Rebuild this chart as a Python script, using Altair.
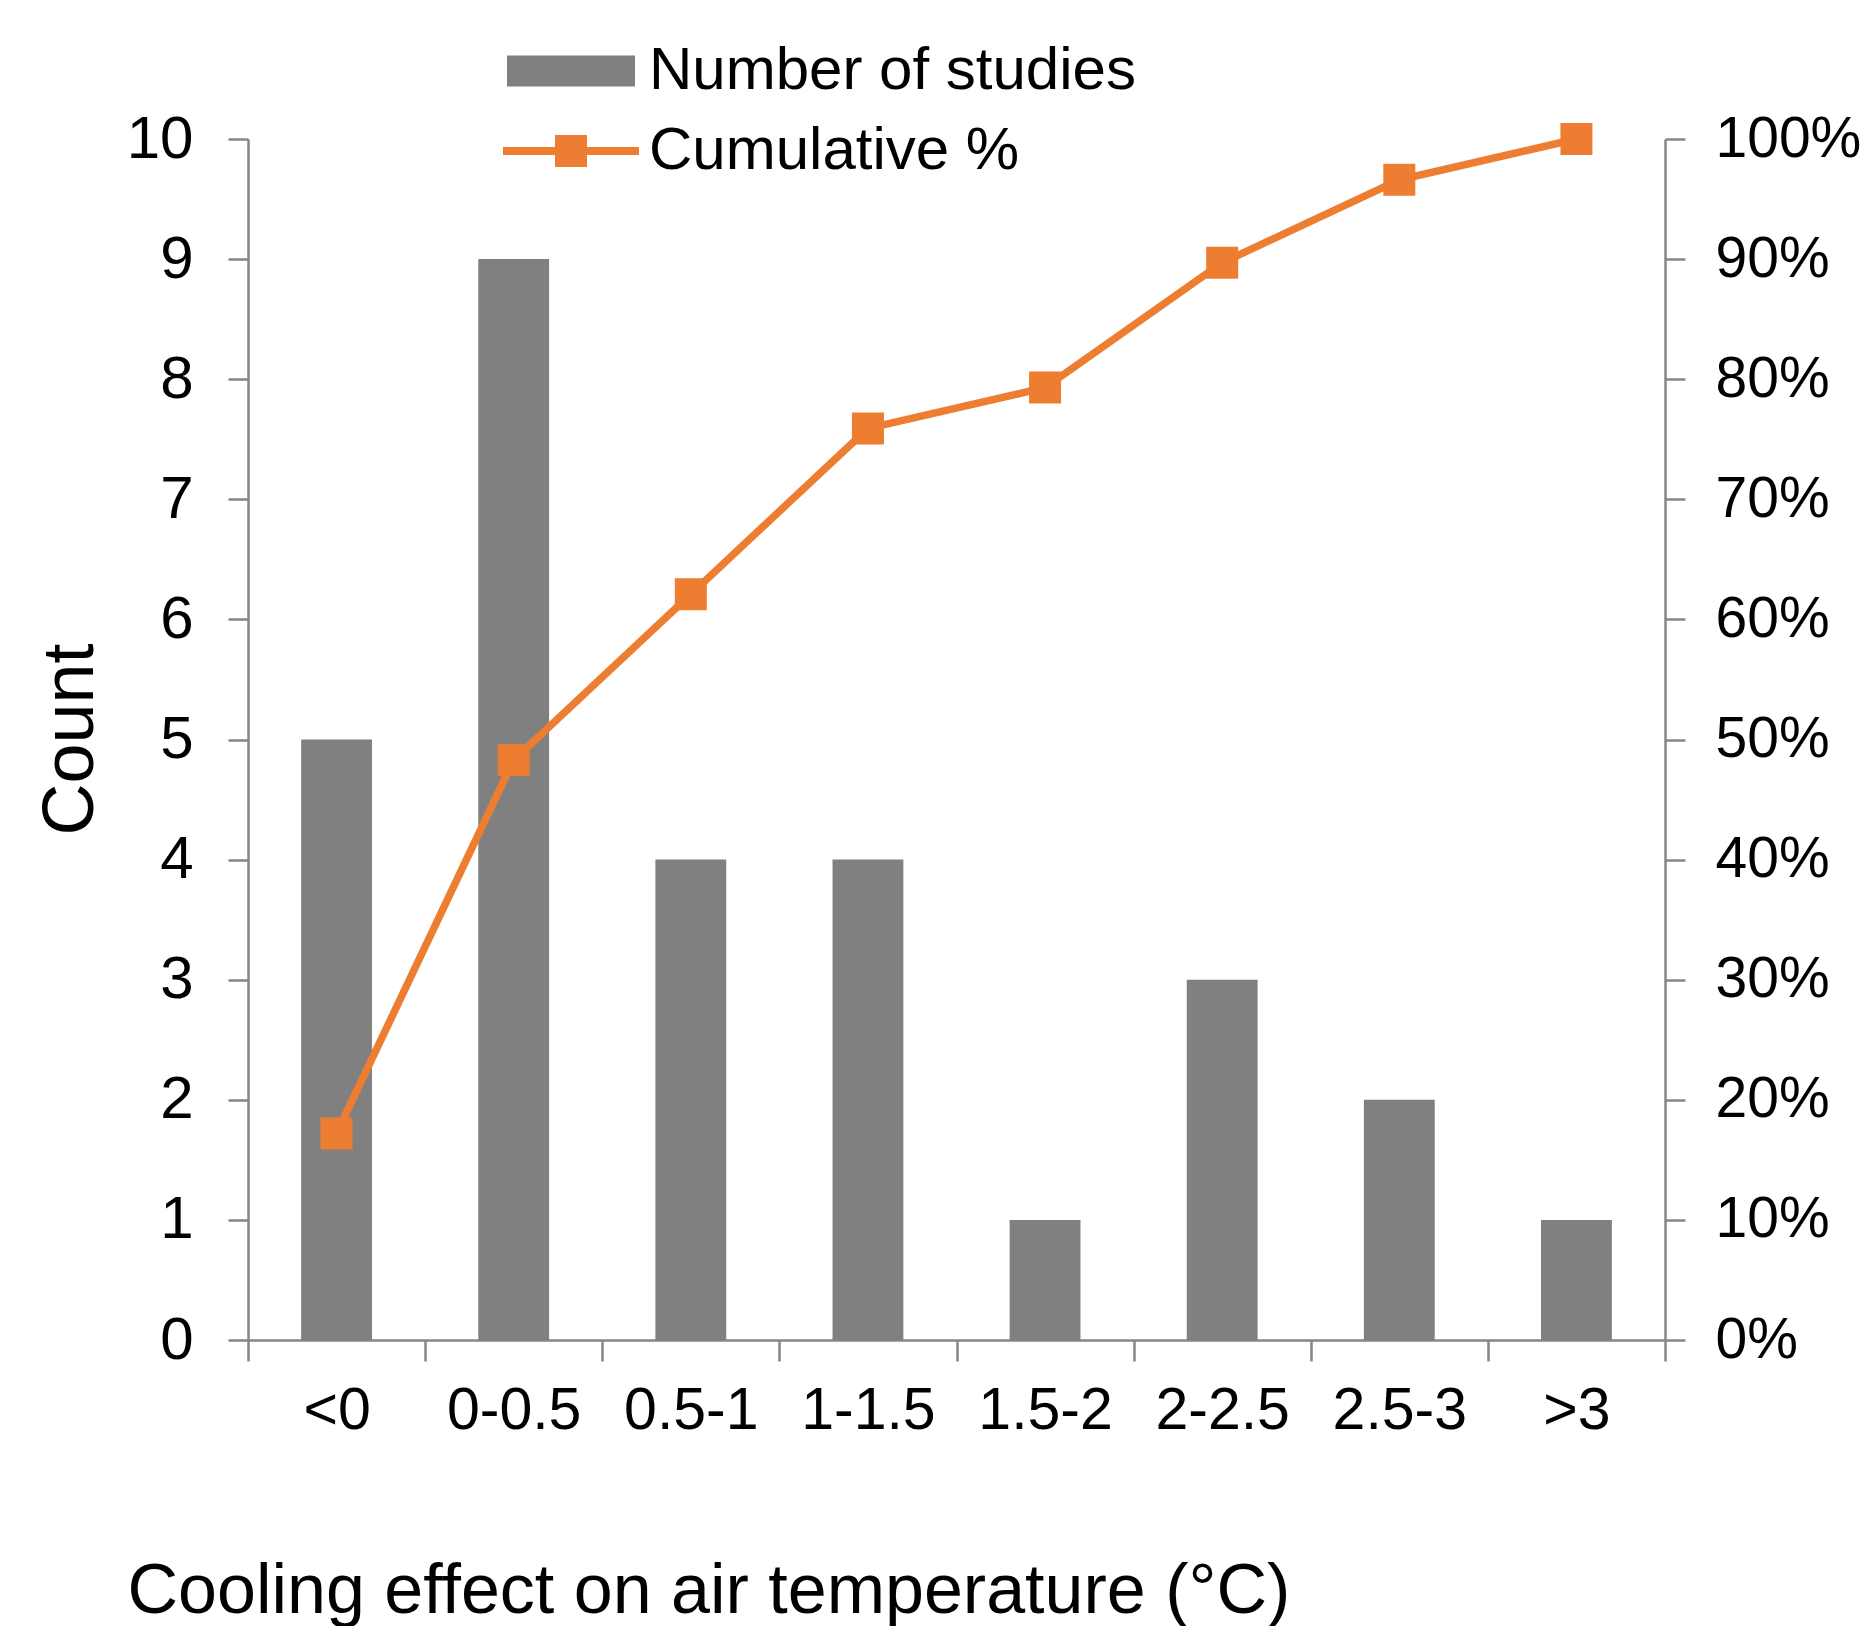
import altair as alt
import pandas as pd

# ---- data ----
categories = ["<0", "0-0.5", "0.5-1", "1-1.5", "1.5-2", "2-2.5", "2.5-3", ">3"]
counts = [5, 9, 4, 4, 1, 3, 2, 1]
cumulative = [0.172, 0.483, 0.621, 0.759, 0.793, 0.897, 0.966, 1.0]
bar_label = "Number of studies"
line_label = "Cumulative %"
count_ticks = [0, 1, 2, 3, 4, 5, 6, 7, 8, 9, 10]
pct_ticks = [0, 0.1, 0.2, 0.3, 0.4, 0.5, 0.6, 0.7, 0.8, 0.9, 1.0]

df = pd.DataFrame({
    "range": categories,
    "count": counts,
    "cum": cumulative,
    "bar_series": [bar_label] * len(categories),
    "line_series": [line_label] * len(categories),
})

FONT = "Liberation Sans"
AXC = "#868686"
GRAY = "#808080"
ORANGE = "#ED7D31"

RECT_PATH = "M-4,-0.97H4V0.97H-4Z"
LINE_PATH = "M-4.25,-0.25H4.25V0.25H-4.25Z M-1,-1H1V1H-1Z"

x_enc = alt.X(
    "range:N",
    sort=categories,
    scale=alt.Scale(paddingInner=0, paddingOuter=0),
    axis=alt.Axis(
        title="Cooling effect on air temperature (°C)",
        labelAngle=0,
        tickBand="extent",
        labelFontSize=59,
        labelPadding=20,
        tickSize=21,
        titleFontSize=70,
        titleAlign="left",
        titleAnchor="start",
        titleX=-121,
        titleY=272,
        titleBaseline="alphabetic",
    ),
)

leg_common = dict(
    orient="none",
    title=None,
    labelFontSize=60,
    labelFont=FONT,
    labelColor="black",
    labelLimit=1000,
    symbolSize=1024,
    symbolStrokeWidth=0,
    padding=0,
    labelOffset=48,
    legendX=293,
)

bars = alt.Chart(df).mark_bar(width=alt.RelativeBandSize(0.4)).encode(
    x=x_enc,
    y=alt.Y(
        "count:Q",
        scale=alt.Scale(domain=[0, 10], nice=False),
        axis=alt.Axis(
            title="Count",
            orient="left",
            values=count_ticks,
            labelFontSize=60,
            labelPadding=35,
            tickSize=20,
            titleFontSize=72,
            titleX=-156,
            titleY=600,
            titleBaseline="alphabetic",
        ),
    ),
    color=alt.Color(
        "bar_series:N",
        scale=alt.Scale(domain=[bar_label], range=[GRAY]),
        legend=alt.Legend(symbolType=RECT_PATH, legendY=-98, **leg_common),
    ),
)

y2 = alt.Y(
    "cum:Q",
    scale=alt.Scale(domain=[0, 1], nice=False),
    axis=alt.Axis(
        title=None,
        orient="right",
        format=".0%",
        values=pct_ticks,
        labelFontSize=57,
        labelPadding=30,
        tickSize=20,
    ),
)

line = alt.Chart(df).mark_line(color=ORANGE, strokeWidth=7.5).encode(x=x_enc, y=y2)

points = alt.Chart(df).mark_square(size=1024, opacity=1).encode(
    x=x_enc,
    y=y2,
    fill=alt.Fill(
        "line_series:N",
        scale=alt.Scale(domain=[line_label], range=[ORANGE]),
        legend=alt.Legend(symbolType=LINE_PATH, legendY=-18, **leg_common),
    ),
)

chart = (
    alt.layer(bars, alt.layer(line, points))
    .resolve_scale(y="independent", color="independent", fill="independent")
    .properties(
        width=1417,
        height=1201,
        autosize=alt.AutoSizeParams(type="none"),
        padding={"left": 240, "top": 131, "right": 198, "bottom": 286},
    )
    .configure_view(stroke=None)
    .configure_axis(
        labelFont=FONT,
        titleFont=FONT,
        labelColor="black",
        titleColor="black",
        titleFontWeight="normal",
        domainColor=AXC,
        tickColor=AXC,
        domainWidth=2.5,
        tickWidth=2.5,
        grid=False,
    )
    .configure_legend(labelFont=FONT)
)

chart.save("out.html", embed_options={"renderer": "svg", "actions": False})
